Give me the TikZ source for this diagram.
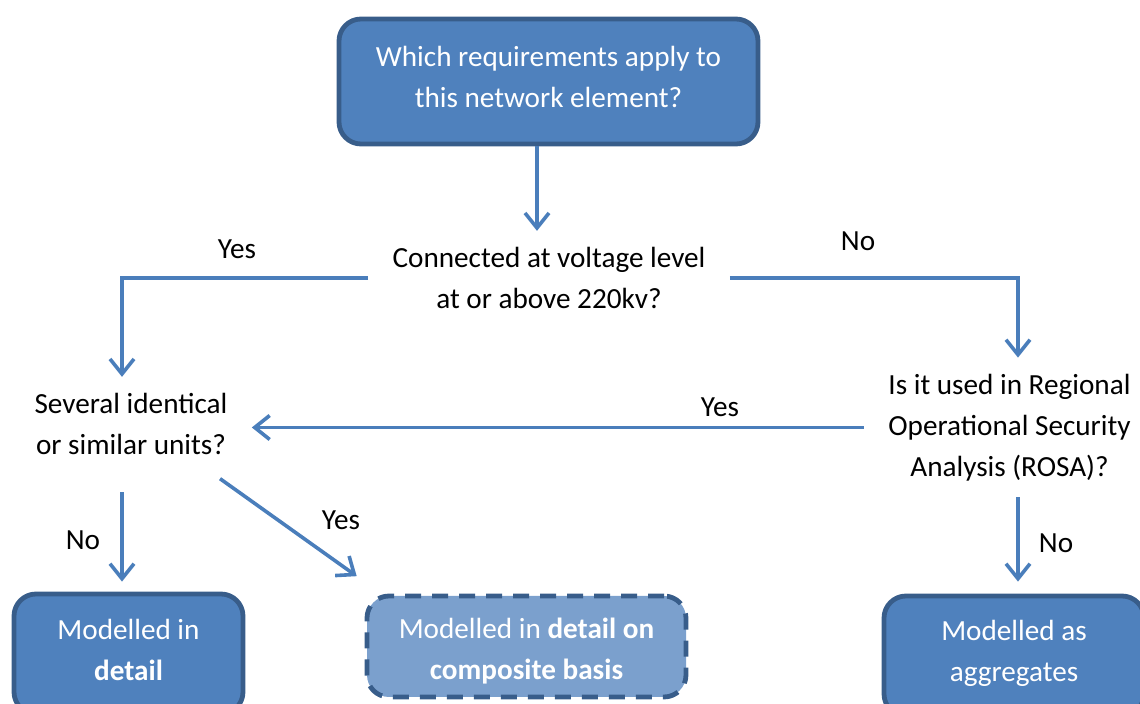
\documentclass[tikz,border=0pt]{standalone}
\usepackage{fontspec}
\setmainfont{Carlito}
\usetikzlibrary{arrows.meta, positioning, calc}
\definecolor{boxfill}{HTML}{4F81BD}
\definecolor{boxline}{HTML}{385D8A}
\definecolor{softfill}{HTML}{7BA0CD}
\definecolor{link}{HTML}{4A7EBB}

\begin{document}
\begin{tikzpicture}[x=0.5pt, y=-0.5pt,
      font=\fontsize{14.6}{20.5}\selectfont,
      box/.style={rectangle, rounded corners=11pt, draw=boxline, line width=2.4pt,
                  fill=boxfill, text=white, align=center},
      q/.style={align=center, inner xsep=12pt, inner ysep=8pt},
      arr/.style={draw=link, line width=1.8pt,
                  -{Straight Barb[length=7.5pt, width=12pt]}},
      lbl/.style={inner sep=0pt}]
  \useasboundingbox (0,0) rectangle (1140,704);

  % boxes and questions
  \node[box, minimum width=209.5pt, minimum height=62.5pt, text depth=5pt] (req) at (548.5,81.5)
    {Which requirements apply to\\this network element?};
  \node[q] (volt) at (549,278) {Connected at voltage level\\at or above 220kv?};
  \node[q] (units) at (131,424) {Several identical\\or similar units?};
  \node[q] (rosa) at (1009.5,427.5) {Is it used in Regional\\Operational Security\\Analysis (ROSA)?};
  \node[box, minimum width=114.5pt, minimum height=60pt, text depth=4pt] (detail) at (128.5,654)
    {Modelled in\\\textbf{detail}};
  \node[box, fill=softfill, dash pattern=on 8pt off 5.5pt,
        minimum width=159.5pt, minimum height=50.5pt, text height=33pt, text depth=0pt] (comp) at (526.5,646.5)
    {Modelled in \textbf{detail on}\\\textbf{composite basis}};
  \node[box, minimum width=130pt, minimum height=60pt, text depth=5pt] (aggr) at (1014,656)
    {Modelled as\\aggregates};

  % columns the vertical arrows run on
  \coordinate (ccol) at (537,0);
  \coordinate (lcol) at (122,0);
  \coordinate (rcol) at (1018,0);

  \draw[arr] (ccol |- req.south) -- (ccol |- volt.north);
  \draw[arr] (volt.west) -| (lcol |- units.north);
  \draw[arr] (volt.east) -| (rcol |- rosa.north);
  \draw[arr] (rosa.west) -- (rosa.west -| units.east);
  \draw[arr, shorten <=10.5pt, shorten >=5pt] (lcol |- units.south) -- (lcol |- detail.north);
  \draw[arr, shorten <=6.5pt, shorten >=15pt] (units.-31) -- (comp.160);
  \draw[arr, shorten >=6pt] (rcol |- rosa.south) -- (rcol |- aggr.north);

  % answers
  \node[lbl] (y1) at (237,249) {Yes};
  \node[lbl] (n1) at (858,241) {No};
  \node[lbl] (y2) at (720,407) {Yes};
  \node[lbl] (n2) at (83,540) {No};
  \node[lbl] (y3) at (341,520) {Yes};
  \node[lbl] (n3) at (1056,543) {No};
\end{tikzpicture}
\end{document}
